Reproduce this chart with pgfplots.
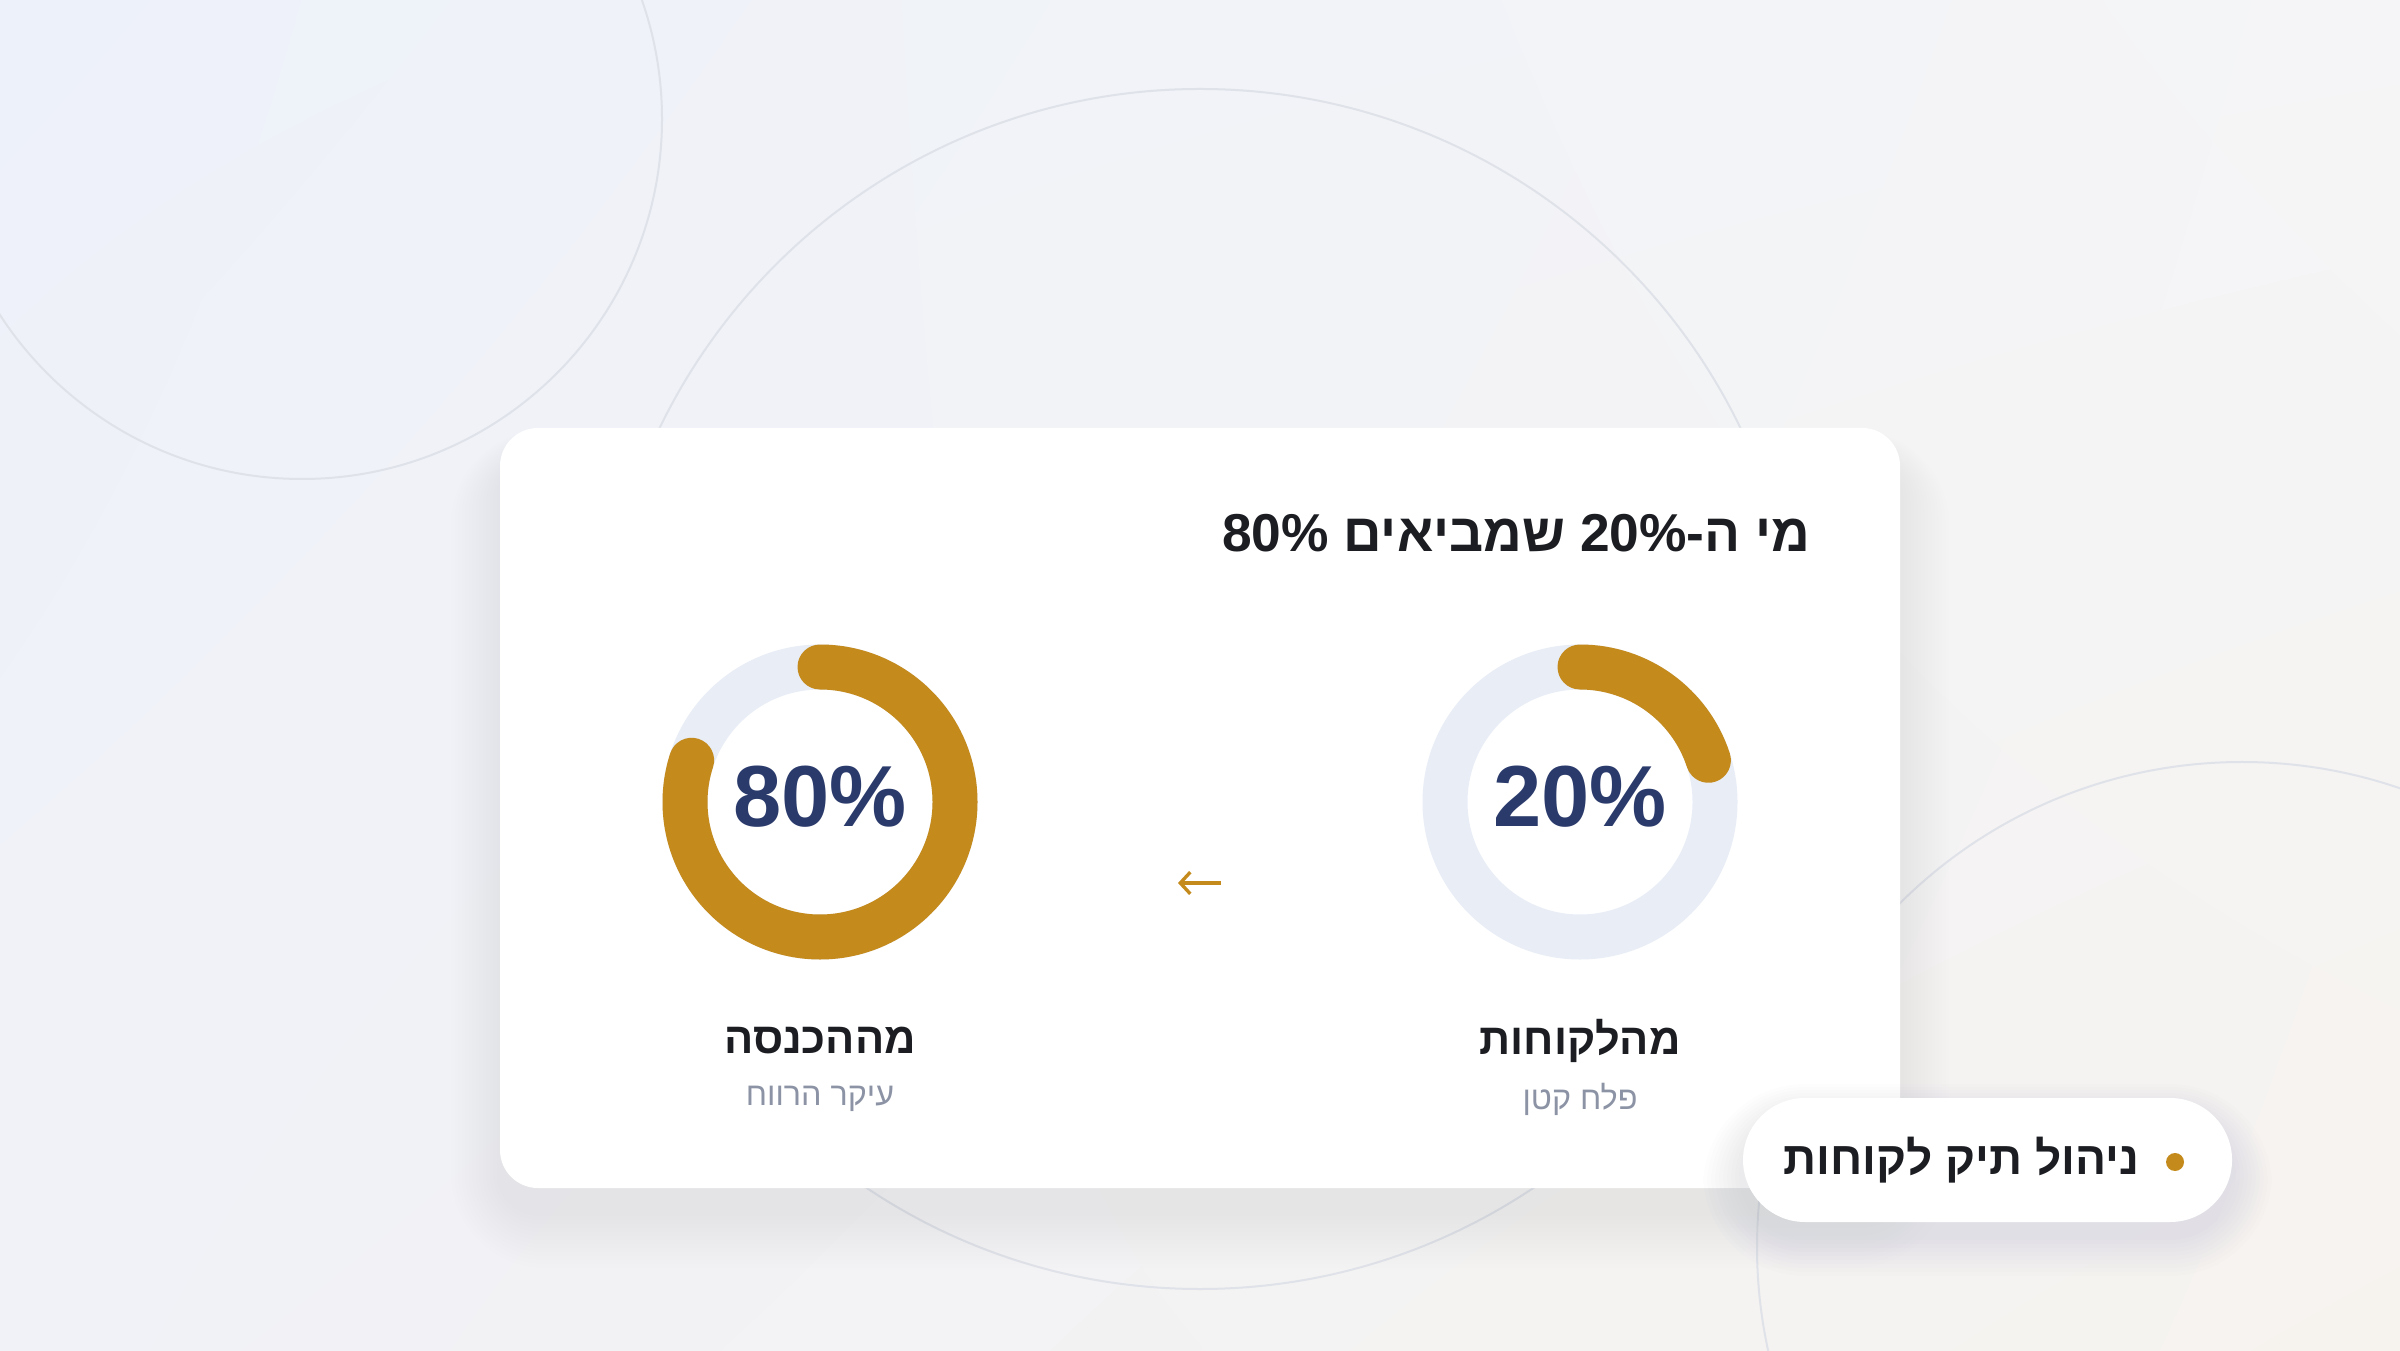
\documentclass[border=0pt]{standalone}
\usepackage{pgfplots}
\pgfplotsset{compat=1.18}
\usepackage{pgfplotstable}
\usepackage{fontspec}
\setmainfont{Liberation Sans}
\newfontfamily\heb[Script=Hebrew]{Liberation Sans}
\TeXXeTstate=1
\usetikzlibrary{arrows.meta,shadings}
\definecolor{bgTL}{HTML}{EDF1F9}
\definecolor{bgTR}{HTML}{F5F5F7}
\definecolor{bgBL}{HTML}{F1F2F7}
\definecolor{bgBR}{HTML}{F6F3EF}
\definecolor{circ}{HTML}{DFE2E9}
\definecolor{shad}{HTML}{5C6070}
\definecolor{gold}{HTML}{C48A1C}
\definecolor{track}{HTML}{E8EDF6}
\definecolor{navy}{HTML}{2A3A6B}
\definecolor{dark}{HTML}{1B1D22}
\definecolor{greyt}{HTML}{8B93A5}

% share of the total, in percent
\pgfplotstableread{
name     value  cx
clients  20     1580
revenue  80     820
}\donuts
\pgfplotstablegetelem{0}{value}\of\donuts \edef\vClients{\pgfplotsretval}
\pgfplotstablegetelem{1}{value}\of\donuts \edef\vRevenue{\pgfplotsretval}

\begin{document}
\begin{tikzpicture}
\useasboundingbox (0,0) rectangle (720pt,405pt);
\begin{scope}[x=0.3pt,y=0.3pt]
  \shade[upper left=bgTL, upper right=bgTR, lower left=bgBL, lower right=bgBR] (0,0) rectangle (2400,1350);
  \begin{scope}
    \clip (0,0) rectangle (2400,1350);
    \draw[circ, line width=0.6pt] (302,1231) circle[radius=360];
    \draw[circ, line width=0.6pt] (1200,661) circle[radius=600];
    \draw[circ, line width=0.6pt] (2242,103) circle[radius=485];
  \end{scope}
  % card shadow
  \foreach \i in {1,...,14}{
    \pgfmathsetmacro\rr{11.4+\i*1.2}
    \fill[shad, opacity=0.0045, rounded corners=\rr pt] (500-\i*3.5,162-24-\i*4) rectangle (1900+\i*3.5,922-30+\i*2);
  }
  \fill[white, rounded corners=11.4pt] (500,162) rectangle (1900,922);
  % pill shadow
  \foreach \i in {1,...,10}{
    \pgfmathsetmacro\rr{18.6+\i*1.2}
    \fill[shad, opacity=0.006, rounded corners=\rr pt] (1743-\i*4,128-14-\i*4) rectangle (2232+\i*4,252-16+\i*3);
  }
  \fill[white, rounded corners=18.6pt] (1743,128) rectangle (2232,252);
\end{scope}

\begin{axis}[at={(0pt,0pt)}, anchor=south west, scale only axis,
  width=720pt, height=405pt, xmin=0, xmax=2400, ymin=0, ymax=1350,
  hide axis, clip=false]
  \addplot[draw=none, forget plot] coordinates {(0,0)};
  % revenue donut (left)
  \draw[track, line width=13.5pt] (axis cs:820,548) circle[radius=40.5pt];
  \draw[gold, line width=13.5pt, line cap=round] (axis cs:820,683) arc[start angle=90, delta angle=-3.6*\vRevenue, radius=40.5pt];
  % clients donut (right)
  \draw[track, line width=13.5pt] (axis cs:1580,548) circle[radius=40.5pt];
  \draw[gold, line width=13.5pt, line cap=round] (axis cs:1580,683) arc[start angle=90, delta angle=-3.6*\vClients, radius=40.5pt];
\end{axis}

\begin{scope}[x=0.3pt,y=0.3pt]
  \node[anchor=east, inner sep=0, text=dark] at (1811,817)
    {\heb\bfseries\fontsize{16}{19}\selectfont\beginR מי ה-\beginL 20\%\endL{} שמביאים \beginL 80\%\endL\endR};
  \node[inner sep=0, text=navy] at (820,553) {\bfseries\fontsize{26}{30}\selectfont 80\%};
  \node[inner sep=0, text=navy] at (1580,553) {\bfseries\fontsize{26}{30}\selectfont 20\%};
  \node[inner sep=0, text=dark] at (820,309) {\heb\bfseries\fontsize{13}{15}\selectfont\beginR מההכנסה\endR};
  \node[inner sep=0, text=greyt] at (820,251) {\heb\fontsize{9.7}{11}\selectfont\beginR עיקר הרווח\endR};
  \node[inner sep=0, text=dark] at (1580,309) {\heb\bfseries\fontsize{13}{15}\selectfont\beginR מהלקוחות\endR};
  \node[inner sep=0, text=greyt] at (1580,251) {\heb\fontsize{9.7}{11}\selectfont\beginR פלח קטן\endR};
  \draw[gold, line width=1pt, -{Straight Barb[length=3pt,width=6.5pt]}] (1221,467) -- (1178,467);
  \node[anchor=east, inner sep=0, text=dark] at (2140,190)
    {\heb\bfseries\fontsize{13.8}{16}\selectfont\beginR ניהול תיק לקוחות\endR};
  \fill[gold] (2175,188) circle[radius=9];
\end{scope}
\end{tikzpicture}
\end{document}
